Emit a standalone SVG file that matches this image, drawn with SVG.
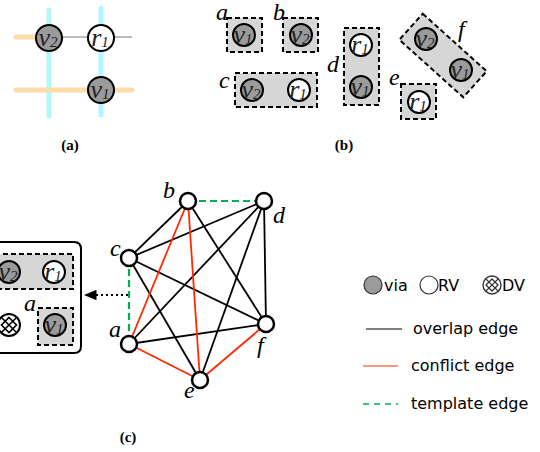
<svg xmlns="http://www.w3.org/2000/svg" width="540" height="452" viewBox="0 0 540 452">
<defs>
<style>
.via{fill:#9b9b9b;stroke:#000;stroke-width:2}
.rv{fill:#fff;stroke:#000;stroke-width:2}
.tpl{fill:#d6d6d6;stroke:#000;stroke-width:2;stroke-dasharray:5,3}
.sym{font-family:"Liberation Serif",serif;font-style:italic;font-size:26px;fill:#222;text-anchor:middle}
.sub{font-size:15px}
.lbl{font-family:"Liberation Serif",serif;font-style:italic;font-size:24px;fill:#000}
.cap{font-family:"Liberation Serif",serif;font-weight:bold;font-size:15px;fill:#000;text-anchor:middle}
.leg{font-family:"DejaVu Sans",sans-serif;font-size:16px;fill:#000}
.node{fill:#fff;stroke:#000;stroke-width:2.5}
.blk{stroke:#000;stroke-width:1.8}
.red{stroke:#ff2a00;stroke-width:1.8}
.grn{stroke:#00b050;stroke-width:2.2;stroke-dasharray:7,4}
</style>
<marker id="arr" viewBox="0 0 12 10" refX="11" refY="5" markerWidth="7" markerHeight="5.8" orient="auto"><path d="M0,0 L12,5 L0,10 z" fill="#000"/></marker>
</defs>
<rect width="540" height="452" fill="#fff"/>

<!-- (a) -->
<g id="panel-a">
<line x1="49" y1="10" x2="49" y2="116" stroke="#b2f7fb" stroke-width="5" stroke-linecap="round"/>
<line x1="101" y1="8" x2="101" y2="115" stroke="#b2f7fb" stroke-width="5" stroke-linecap="round"/>
<line x1="16" y1="37" x2="40" y2="37" stroke="#fddcab" stroke-width="5" stroke-linecap="round"/>
<line x1="16" y1="90" x2="132" y2="90" stroke="#fddcab" stroke-width="5" stroke-linecap="round"/>
<line x1="49" y1="37" x2="132" y2="37" stroke="#777" stroke-width="1"/>
<g id="a-v2"><circle class="via" cx="49" cy="38" r="13"/><text class="sym" x="48" y="46">v<tspan class="sub" dy="1">2</tspan></text></g>
<g id="a-r1"><circle class="rv" cx="101" cy="38" r="13"/><text class="sym" x="100" y="46">r<tspan class="sub" dy="1">1</tspan></text></g>
<g id="a-v1"><circle class="via" cx="101" cy="90" r="13"/><text class="sym" x="100" y="98">v<tspan class="sub" dy="1">1</tspan></text></g>
<text class="cap" x="70" y="150">(a)</text>
</g>

<!-- (b) -->
<g id="tpl-a">
<rect class="tpl" x="227" y="18" width="35" height="34"/>
<circle class="via" cx="244" cy="35" r="11"/><text class="sym" x="243" y="43">v<tspan class="sub" dy="1">1</tspan></text>
<text class="lbl" x="216" y="20" font-size="22">a</text>
</g>
<g id="tpl-b">
<rect class="tpl" x="283" y="18" width="35" height="34"/>
<circle class="via" cx="301" cy="35" r="11"/><text class="sym" x="300" y="43">v<tspan class="sub" dy="1">2</tspan></text>
<text class="lbl" x="273" y="20" font-size="22">b</text>
</g>
<g id="tpl-c">
<rect class="tpl" x="235" y="73" width="82" height="34"/>
<circle class="via" cx="252" cy="90" r="11"/><text class="sym" x="251" y="98">v<tspan class="sub" dy="1">2</tspan></text>
<circle class="rv" cx="299" cy="90" r="11"/><text class="sym" x="298" y="98">r<tspan class="sub" dy="1">1</tspan></text>
<text class="lbl" x="219" y="88">c</text>
</g>
<g id="tpl-d">
<rect class="tpl" x="344" y="28" width="35" height="77"/>
<circle class="rv" cx="361" cy="45" r="11"/><text class="sym" x="360" y="53">r<tspan class="sub" dy="1">1</tspan></text>
<circle class="via" cx="361" cy="87" r="11"/><text class="sym" x="360" y="95">v<tspan class="sub" dy="1">1</tspan></text>
<text class="lbl" x="327" y="72">d</text>
</g>
<g id="tpl-e">
<rect class="tpl" x="401" y="84" width="35" height="35"/>
<circle class="rv" cx="419" cy="102" r="11"/><text class="sym" x="418" y="110">r<tspan class="sub" dy="1">1</tspan></text>
<text class="lbl" x="389" y="85">e</text>
</g>
<g id="tpl-f">
<rect class="tpl" x="-43" y="-17.5" width="86" height="35" transform="translate(443 55.5) rotate(42)"/>
<circle class="via" cx="426" cy="39" r="11"/><text class="sym" x="425" y="47">v<tspan class="sub" dy="1">2</tspan></text>
<circle class="via" cx="461" cy="70" r="11"/><text class="sym" x="460" y="78">v<tspan class="sub" dy="1">1</tspan></text>
<text class="lbl" x="458" y="37">f</text>
</g>
<text class="cap" x="344" y="150">(b)</text>

<!-- (c) left box -->
<g id="zoom-box">
<path d="M-5,242 H74 Q81,242 81,249 V346 Q81,353 74,353 H-5" fill="#fff" stroke="#000" stroke-width="2"/>
<rect class="tpl" x="-5" y="254" width="78" height="35"/>
<circle class="via" cx="9" cy="272" r="11"/><text class="sym" x="8" y="280">v<tspan class="sub" dy="1">2</tspan></text>
<circle class="rv" cx="54" cy="272" r="11"/><text class="sym" x="53" y="280">r<tspan class="sub" dy="1">1</tspan></text>
<rect class="tpl" x="38" y="308" width="35" height="37"/>
<circle class="via" cx="55" cy="325" r="11"/><text class="sym" x="54" y="333">v<tspan class="sub" dy="1">1</tspan></text>
<text class="lbl" x="24" y="311">a</text>
<g id="zoom-dv">
<circle cx="9" cy="325" r="11" fill="#fff" stroke="#000" stroke-width="2"/>
<path d="M1.2,317.2 L16.8,332.8 M16.8,317.2 L1.2,332.8 M9,317.5 L16.5,325 L9,332.5 L1.5,325 Z" fill="none" stroke="#000" stroke-width="1.6"/>
</g>
</g>

<!-- (c) graph connectors -->
<g id="connectors">
<line class="blk" x1="188" y1="201" x2="129" y2="258"/>
<line class="blk" x1="188" y1="201" x2="266" y2="324"/>
<line class="blk" x1="129" y1="258" x2="264" y2="201"/>
<line class="blk" x1="129" y1="258" x2="266" y2="324"/>
<line class="blk" x1="129" y1="258" x2="200" y2="380"/>
<line class="blk" x1="129" y1="344" x2="264" y2="201"/>
<line class="blk" x1="129" y1="344" x2="266" y2="324"/>
<line class="blk" x1="264" y1="201" x2="200" y2="380"/>
<line class="blk" x1="264" y1="201" x2="266" y2="324"/>
<line class="red" x1="188" y1="201" x2="129" y2="344"/>
<line class="red" x1="188" y1="201" x2="200" y2="380"/>
<line class="red" x1="129" y1="344" x2="200" y2="380"/>
<line class="red" x1="200" y1="380" x2="266" y2="324"/>
<line class="grn" x1="188" y1="201" x2="264" y2="201"/>
<line class="grn" x1="129" y1="258" x2="129" y2="344"/>
<line x1="128" y1="295" x2="85" y2="295" stroke="#000" stroke-width="1.8" stroke-dasharray="2,3" marker-end="url(#arr)"/>
</g>

<g id="node-a"><circle class="node" cx="129" cy="344" r="8"/><text class="lbl" x="109" y="337">a</text></g>
<g id="node-b"><circle class="node" cx="188" cy="201" r="8"/><text class="lbl" x="163" y="198">b</text></g>
<g id="node-c"><circle class="node" cx="129" cy="258" r="8"/><text class="lbl" x="110" y="256">c</text></g>
<g id="node-d"><circle class="node" cx="264" cy="201" r="8"/><text class="lbl" x="273" y="223">d</text></g>
<g id="node-e"><circle class="node" cx="200" cy="380" r="8"/><text class="lbl" x="184" y="398">e</text></g>
<g id="node-f"><circle class="node" cx="266" cy="324" r="8"/><text class="lbl" x="257" y="353">f</text></g>
<text class="cap" x="128" y="442">(c)</text>

<!-- legend -->
<g id="legend">
<circle cx="373" cy="285" r="9" fill="#9b9b9b" stroke="#333" stroke-width="1.2"/>
<text class="leg" x="384" y="291">via</text>
<circle cx="429" cy="285" r="9" fill="#fff" stroke="#333" stroke-width="1.2"/>
<text class="leg" x="438" y="291">RV</text>
<circle cx="492" cy="285" r="9" fill="#fff" stroke="#333" stroke-width="1.4"/>
<path d="M485.6,278.6 L498.4,291.4 M498.4,278.6 L485.6,291.4 M492,279 L498,285 L492,291 L486,285 Z" fill="none" stroke="#333" stroke-width="1.3"/>
<text class="leg" x="502" y="291">DV</text>
<line x1="366" y1="329" x2="402" y2="329" stroke="#000" stroke-width="1.2"/>
<text class="leg" x="413" y="334">overlap edge</text>
<line x1="363" y1="366" x2="398" y2="366" stroke="#ff2a00" stroke-width="1.2"/>
<text class="leg" x="411" y="371">conflict edge</text>
<line x1="363" y1="404" x2="398" y2="404" stroke="#00b050" stroke-width="1.6" stroke-dasharray="6,5"/>
<text class="leg" x="411" y="409">template edge</text>
</g>
</svg>
